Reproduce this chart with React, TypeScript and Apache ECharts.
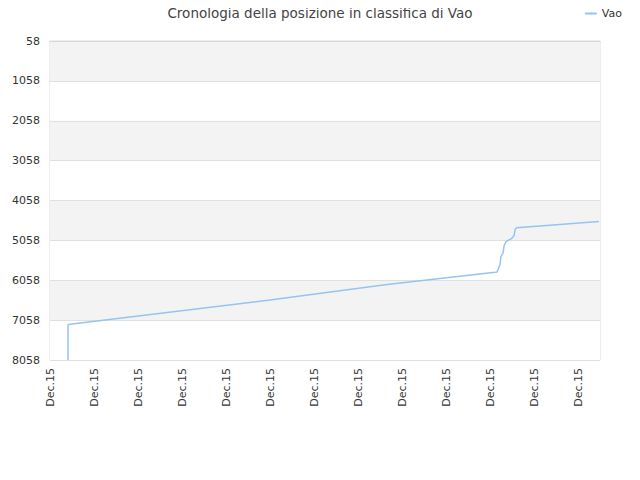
import React, { useEffect, useRef } from 'react';
import * as echarts from 'echarts';
import type { EChartsOption } from 'echarts';

// ranking history: day index on x, position on y (lower is better)
const days = [8.2, 8.2, 100, 152.3, 202.3, 203.2, 204.5, 205, 206, 206.4, 207.3, 209.9, 210.9, 211.5, 212.1, 222.7, 249.5];
const ranks = [8058, 7168, 6553, 6170, 5858, 5851, 5675, 5467, 5357, 5192, 5091, 5006, 4941, 4773, 4740, 4697, 4585];

const tickLabel = 'Dec.15';
const rankMin = 58;
const rankStep = 1000;
const rankMax = 8058;

const App: React.FC = () => {
  const chartRef = useRef<HTMLDivElement>(null);

  useEffect(() => {
    if (!chartRef.current) return;
    const chart = echarts.init(chartRef.current, undefined, { renderer: 'svg' });

    const option: EChartsOption = {
      animation: false,
      textStyle: { fontFamily: 'DejaVu Sans' },
      title: {
        text: 'Cronologia della posizione in classifica di Vao',
        left: 'center',
        top: 1,
        textStyle: { fontSize: 13.5, fontWeight: 'normal', color: '#444' },
      },
      legend: {
        right: 13,
        top: 3,
        itemWidth: 12,
        itemHeight: 2,
        textStyle: { fontSize: 11, color: '#333' },
        data: ['Vao'],
      },
      grid: {
        left: 50,
        right: 40,
        top: 41,
        bottom: 120,
        show: true,
        borderColor: '#dcdcdc',
        borderWidth: 1,
      },
      xAxis: {
        type: 'value',
        min: 0,
        max: 250,
        interval: 20,
        axisLine: { show: true, lineStyle: { color: '#d6d6d6' } },
        axisTick: { show: false },
        splitLine: { show: false },
        axisLabel: {
          rotate: 90,
          margin: 8,
          fontSize: 11,
          color: '#333',
          showMaxLabel: false,
          formatter: () => tickLabel,
        },
      },
      yAxis: {
        type: 'value',
        inverse: true,
        min: 0,
        max: rankMax - rankMin,
        interval: rankStep,
        axisLine: { show: false },
        axisTick: { show: false },
        axisLabel: {
          fontSize: 11,
          color: '#333',
          margin: 10,
          formatter: (v: number) => String(v + rankMin),
        },
        splitLine: { show: true, lineStyle: { color: '#e0e0e0' } },
        splitArea: { show: true, areaStyle: { color: ['#f3f3f3', '#ffffff'] } },
      },
      series: [
        {
          name: 'Vao',
          type: 'line',
          symbol: 'none',
          data: days.map((d, i) => [d, ranks[i] - rankMin]),
          lineStyle: { color: '#96c4f2', width: 1.5 },
          itemStyle: { color: '#96c4f2' },
        },
      ],
    };

    chart.setOption(option);
    return () => chart.dispose();
  }, []);

  return <div ref={chartRef} style={{ width: 640, height: 480, margin: -8 }} />;
};

export default App;
